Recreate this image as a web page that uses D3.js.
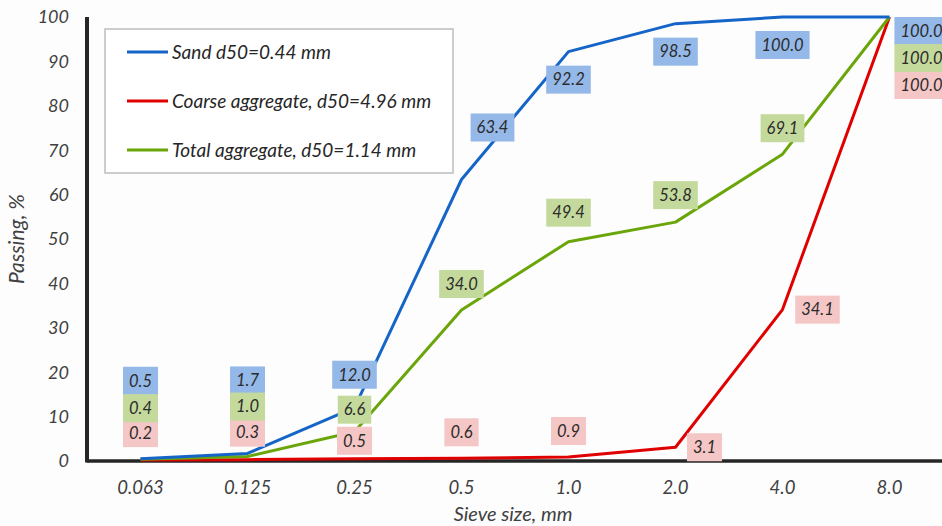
<!DOCTYPE html>
<html>
<head>
<meta charset="utf-8">
<script src="https://cdn.jsdelivr.net/npm/d3@7"></script>
<style>
  body { margin: 0; background: #fdfdfd; }
  svg { display: block; font-family: Lato, 'Open Sans', sans-serif; font-style: italic; }
</style>
</head>
<body>
<svg id="chart" width="942" height="526"></svg>
<script>
/* data */
const sieveSizes = ['0.063', '0.125', '0.25', '0.5', '1.0', '2.0', '4.0', '8.0']
const sand = [0.5, 1.7, 12.0, 63.4, 92.2, 98.5, 100.0, 100.0]
const coarse = [0.2, 0.3, 0.5, 0.6, 0.9, 3.1, 34.1, 100.0]
const total = [0.4, 1.0, 6.6, 34.0, 49.4, 53.8, 69.1, 100.0]
const seriesNames = ['Sand d50=0.44 mm', 'Coarse aggregate, d50=4.96 mm', 'Total aggregate, d50=1.14 mm']
const yTicks = [0, 10, 20, 30, 40, 50, 60, 70, 80, 90, 100]

/* label offsets from each point (dx, dy in px) */
const sandLabelOff = [[0, -78], [0, -73], [0, -33], [31, -52], [0, 28], [0, 28], [0, 28], [32, 14]]
const coarseLabelOff = [[0, -27], [0, -27], [0, -18], [0, -26], [0, -26], [29, 0], [35, 0], [32, 68]]
const totalLabelOff = [[0, -51], [0, -50], [0, -22], [0, -26], [0, -29], [0, -27], [0, -26], [32, 41]]

/* colours */
const lineCol = ['#1565c8', '#e00000', '#6aa50a']
const boxCol = ['#94b8e8', '#f5c6c6', '#c4da9c']

const svg = d3.select('#chart')
const margin = { left: 87, right: 0, top: 17, bottom: 65 }
const W = 942, H = 526

const x = d3.scalePoint().domain(sieveSizes).range([margin.left, 943]).padding(0.5)
const y = d3.scaleLinear().domain([0, 100]).range([H - margin.bottom, margin.top])

/* y axis labels */
svg.append('g')
  .selectAll('text')
  .data(yTicks)
  .join('text')
  .attr('x', 69)
  .attr('y', d => y(d))
  .attr('dy', '0.35em')
  .attr('text-anchor', 'end')
  .attr('font-size', 18)
  .attr('fill', '#404040')
  .text(d => d)

/* x axis labels */
svg.append('g')
  .selectAll('text')
  .data(sieveSizes)
  .join('text')
  .attr('x', d => x(d))
  .attr('y', 488)
  .attr('dy', '0.35em')
  .attr('text-anchor', 'middle')
  .attr('font-size', 18.5)
  .attr('fill', '#404040')
  .text(d => d)

/* axis titles */
svg.append('text')
  .attr('transform', `translate(24, ${(y(0) + y(100)) / 2}) rotate(-90)`)
  .attr('text-anchor', 'middle')
  .attr('font-size', 21)
  .attr('fill', '#404040')
  .text('Passing, %')

svg.append('text')
  .attr('x', 513)
  .attr('y', 514)
  .attr('dy', '0.35em')
  .attr('text-anchor', 'middle')
  .attr('font-size', 20)
  .attr('fill', '#404040')
  .text('Sieve size, mm')

/* axis lines */
svg.append('line')
  .attr('x1', margin.left).attr('x2', W)
  .attr('y1', y(0)).attr('y2', y(0))
  .attr('stroke', '#262626').attr('stroke-width', 3.5)
svg.append('line')
  .attr('x1', margin.left).attr('x2', margin.left)
  .attr('y1', y(100)).attr('y2', y(0) + 1.5)
  .attr('stroke', '#262626').attr('stroke-width', 4)

/* lines */
const allSeries = [sand, coarse, total]
const line = d3.line().x((d, i) => x(sieveSizes[i])).y(d => y(d))
const drawOrder = [1, 2, 0]
drawOrder.forEach(k => {
  svg.append('path')
    .attr('d', line(allSeries[k]))
    .attr('fill', 'none')
    .attr('stroke', lineCol[k])
    .attr('stroke-width', 3)
    .attr('stroke-linejoin', 'round')
})

/* data labels */
const offsets = [sandLabelOff, coarseLabelOff, totalLabelOff]
const labelG = svg.append('g')
allSeries.forEach((vals, k) => {
  vals.forEach((v, i) => {
    const cx = x(sieveSizes[i]) + offsets[k][i][0]
    const cy = y(v) + offsets[k][i][1]
    const txt = v.toFixed(1)
    const g = labelG.append('g').attr('transform', `translate(${cx}, ${cy})`)
    const t = g.append('text')
      .attr('text-anchor', 'middle')
      .attr('dy', '0.35em')
      .attr('font-size', 16.5)
      .attr('fill', '#2b2b2b')
      .text(txt)
    const w = t.node().getComputedTextLength() + 12
    g.insert('rect', 'text')
      .attr('x', -w / 2).attr('y', -14)
      .attr('width', w).attr('height', 28)
      .attr('fill', boxCol[k])
  })
})

/* legend */
const lg = svg.append('g')
lg.append('rect')
  .attr('x', 105).attr('y', 29)
  .attr('width', 348).attr('height', 144)
  .attr('fill', '#ffffff')
  .attr('stroke', '#bdbdbd').attr('stroke-width', 1.5)
seriesNames.forEach((name, k) => {
  const ly = 52 + k * 49
  lg.append('line')
    .attr('x1', 127).attr('x2', 168)
    .attr('y1', ly).attr('y2', ly)
    .attr('stroke', lineCol[k]).attr('stroke-width', 3)
  lg.append('text')
    .attr('x', 172).attr('y', ly)
    .attr('dy', '0.35em')
    .attr('font-size', 19)
    .attr('fill', '#262626')
    .text(name)
})
</script>
</body>
</html>
